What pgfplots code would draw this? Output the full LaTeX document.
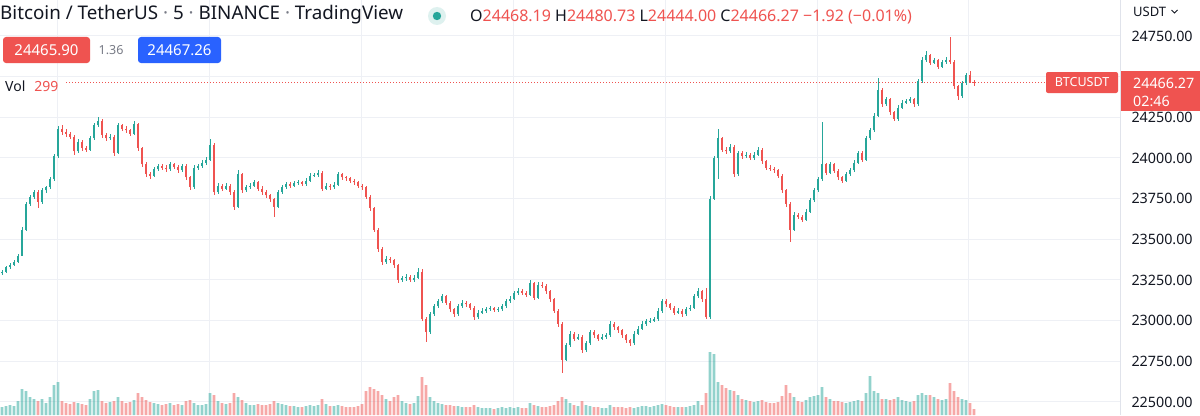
\documentclass[border=0pt]{standalone}
\usepackage{fontspec}
\setmainfont{Noto Sans}
\usepackage{pgfplots}
\usepackage{pgfplotstable}
\pgfplotsset{compat=1.18}
\definecolor{up}{RGB}{38,166,154}
\definecolor{dn}{RGB}{239,83,80}
\definecolor{txt}{RGB}{19,23,34}
\definecolor{gridc}{RGB}{238,240,245}
\definecolor{borderc}{RGB}{224,227,235}
\definecolor{graytxt}{RGB}{120,123,134}
\definecolor{bluebox}{RGB}{41,98,255}

\pgfplotstableread{
x O H L C V
2 23290 23310 23280 23300 400
6 23300 23338 23295 23330 450
10 23330 23352 23318 23345 500
14 23345 23370 23335 23360 450
18 23360 23410 23352 23400 700
22 23400 23575 23395 23560 1300
26 23560 23730 23550 23720 1200
30 23720 23775 23705 23760 900
34 23760 23805 23745 23790 800
38 23790 23800 23690 23730 700
42 23730 23815 23720 23800 800
46 23800 23830 23785 23820 600
50 23820 23880 23810 23870 900
54 23870 24025 23860 24010 1500
58 24010 24195 24000 24180 1650
62 24180 24200 24140 24160 700
66 24160 24175 24130 24150 600
70 24150 24160 24115 24130 550
74 24130 24140 24018 24040 650
78 24040 24115 24030 24100 600
82 24100 24110 24045 24060 550
86 24060 24075 24035 24050 500
90 24050 24135 24045 24120 800
94 24120 24215 24110 24200 1200
98 24200 24250 24190 24230 1250
102 24230 24240 24125 24140 700
106 24140 24155 24105 24120 600
110 24120 24145 24110 24130 650
114 24130 24140 24015 24030 700
118 24030 24215 24025 24200 900
122 24200 24210 24165 24180 700
126 24180 24195 24155 24170 600
130 24170 24180 24135 24150 650
134 24150 24225 24140 24210 750
138 24210 24215 24045 24060 1100
142 24060 24070 23945 23960 900
146 23960 23975 23885 23900 750
150 23900 23915 23870 23890 650
154 23890 23945 23880 23930 600
158 23930 23965 23920 23950 550
162 23950 23960 23925 23940 500
166 23940 23955 23915 23930 550
170 23930 23975 23920 23960 600
174 23960 23970 23930 23945 500
178 23945 23955 23910 23925 550
182 23925 23965 23915 23950 500
186 23950 23960 23865 23880 700
190 23880 23890 23800 23820 750
194 23820 23955 23810 23940 600
198 23940 23965 23925 23950 500
202 23950 23985 23940 23970 500
206 23970 24005 23955 23990 550
210 23990 24115 23980 24080 1100
214 24080 24090 23775 23790 1000
218 23790 23845 23780 23830 700
222 23830 23840 23795 23810 600
226 23810 23845 23800 23830 550
230 23830 23840 23775 23790 600
234 23790 23800 23680 23700 1100
238 23700 23925 23690 23900 900
242 23900 23910 23785 23800 750
246 23800 23835 23790 23820 600
250 23820 23845 23810 23830 500
254 23830 23865 23820 23850 500
258 23850 23860 23795 23810 550
262 23810 23825 23775 23790 500
266 23790 23800 23755 23770 500
270 23770 23780 23730 23745 550
274 23745 23755 23637 23700 700
278 23700 23805 23690 23790 600
282 23790 23835 23780 23820 550
286 23820 23855 23810 23840 500
290 23840 23850 23815 23830 450
294 23830 23860 23820 23845 450
298 23845 23865 23835 23850 400
302 23850 23860 23825 23840 400
306 23840 23875 23830 23860 450
310 23860 23905 23850 23890 500
314 23890 23910 23880 23895 450
318 23895 23925 23885 23910 500
322 23910 23920 23795 23810 800
326 23810 23845 23800 23830 550
330 23830 23840 23805 23820 450
334 23820 23850 23810 23835 450
338 23835 23915 23825 23900 500
342 23900 23910 23865 23880 450
346 23880 23890 23860 23875 400
350 23875 23885 23845 23860 400
354 23860 23870 23835 23850 400
358 23850 23860 23815 23830 450
362 23830 23840 23805 23820 550
366 23820 23830 23745 23760 1200
370 23760 23770 23675 23690 1400
374 23690 23700 23545 23560 1300
378 23560 23570 23425 23440 1200
382 23440 23455 23345 23360 1000
386 23360 23395 23350 23380 800
390 23380 23390 23355 23370 700
394 23370 23380 23325 23340 900
398 23340 23350 23231 23250 1000
402 23250 23275 23240 23260 700
406 23260 23285 23245 23270 600
410 23270 23280 23235 23250 550
414 23250 23280 23240 23265 600
418 23265 23325 23255 23300 950
422 23300 23320 23000 23010 1900
426 23010 23020 22869 22930 1500
430 22930 23055 22920 23040 900
434 23040 23105 23030 23090 700
438 23090 23135 23080 23120 600
442 23120 23165 23110 23150 550
446 23150 23160 23095 23110 500
450 23110 23120 23055 23070 500
454 23070 23080 23022 23040 450
458 23040 23105 23030 23090 450
462 23090 23125 23080 23110 400
466 23110 23120 23085 23100 400
470 23100 23110 23065 23080 400
474 23080 23090 23005 23020 500
478 23020 23065 23010 23050 400
482 23050 23075 23040 23060 350
486 23060 23085 23050 23070 350
490 23070 23090 23060 23075 350
494 23075 23085 23055 23068 300
498 23068 23085 23055 23070 350
502 23070 23105 23060 23090 400
506 23090 23135 23080 23120 350
510 23120 23150 23110 23135 400
514 23135 23185 23125 23170 350
518 23170 23200 23160 23185 400
522 23185 23195 23155 23170 350
526 23170 23180 23145 23160 350
530 23160 23250 23150 23230 600
534 23230 23240 23125 23140 500
538 23140 23235 23130 23220 450
542 23220 23235 23200 23215 400
546 23215 23225 23165 23180 400
550 23180 23190 23115 23130 450
554 23130 23140 23045 23060 500
558 23060 23070 22961 22980 700
562 22980 22990 22678 22760 900
566 22760 22865 22750 22850 800
570 22850 22935 22840 22920 600
574 22920 22930 22875 22890 500
578 22890 22915 22880 22900 450
582 22900 22910 22801 22820 700
586 22820 22875 22810 22860 500
590 22860 22945 22850 22930 450
594 22930 22940 22895 22910 400
598 22910 22920 22875 22890 400
602 22890 22915 22880 22900 350
606 22900 22925 22890 22910 350
610 22910 22995 22900 22980 500
614 22980 22990 22945 22960 400
618 22960 22970 22925 22940 400
622 22940 22950 22895 22910 400
626 22910 22920 22865 22880 350
630 22880 22890 22845 22860 400
634 22860 22935 22850 22920 350
638 22920 22965 22910 22950 400
642 22950 22995 22940 22980 450
646 22980 23010 22970 22995 450
650 22995 23015 22985 23000 400
654 23000 23025 22990 23010 450
658 23010 23075 23000 23060 500
662 23060 23135 23050 23120 550
666 23120 23130 23085 23100 500
670 23100 23110 23065 23080 450
674 23080 23090 23035 23050 400
678 23050 23075 23040 23060 400
682 23060 23070 23025 23040 400
686 23040 23085 23030 23070 400
690 23070 23095 23060 23080 450
694 23080 23165 23070 23150 500
698 23150 23200 23140 23180 700
702 23180 23190 23115 23130 500
706 23130 23200 23010 23020 1100
710 23020 23765 23010 23750 3150
714 23750 24015 23740 24000 3050
718 24000 24175 23870 24120 1650
722 24120 24130 24035 24050 1500
726 24050 24065 24025 24040 1350
730 24040 24085 24030 24070 1250
734 24070 24080 23883 23900 1200
738 23900 24045 23890 24030 1000
742 24030 24040 23995 24010 800
746 24010 24035 24000 24020 750
750 24020 24030 23985 24000 700
754 24000 24035 23990 24020 650
758 24020 24065 24010 24050 700
762 24050 24060 23965 23980 750
766 23980 23990 23925 23940 650
770 23940 23955 23920 23935 600
774 23935 23945 23910 23925 600
778 23925 23935 23875 23890 650
782 23890 23900 23785 23800 950
786 23800 23810 23700 23720 1500
790 23720 23730 23484 23560 1100
794 23560 23665 23550 23650 900
798 23650 23660 23625 23640 700
802 23640 23650 23605 23620 650
806 23620 23685 23610 23670 750
810 23670 23755 23660 23740 900
814 23740 23815 23730 23800 950
818 23800 23885 23790 23870 1000
822 23870 24221 23860 23960 1400
826 23960 23970 23895 23910 900
830 23910 23975 23900 23960 800
834 23960 23970 23905 23920 700
838 23920 23930 23865 23880 700
842 23880 23890 23845 23860 650
846 23860 23915 23850 23900 600
850 23900 23940 23890 23925 650
854 23925 23985 23915 23970 700
858 23970 24045 23960 24030 750
862 24030 24040 23975 23990 700
866 23990 24135 23980 24120 1100
870 24120 24185 24110 24170 1950
874 24170 24275 24160 24260 1200
878 24260 24492 24250 24420 1100
882 24420 24430 24315 24330 800
886 24330 24375 24320 24360 800
890 24360 24370 24265 24280 750
894 24280 24290 24225 24240 800
898 24240 24325 24230 24310 900
902 24310 24355 24300 24340 750
906 24340 24365 24330 24350 700
910 24350 24375 24340 24360 650
914 24360 24370 24315 24330 700
918 24330 24485 24320 24470 1000
922 24470 24621 24460 24600 1100
926 24600 24660 24590 24630 1000
930 24630 24640 24570 24585 1000
934 24585 24615 24575 24600 900
938 24600 24610 24545 24560 800
942 24560 24605 24550 24590 750
946 24590 24620 24580 24600 800
950 24600 24744 24580 24590 1600
954 24590 24600 24425 24440 1200
958 24440 24450 24356 24380 900
962 24380 24475 24370 24460 800
966 24460 24525 24450 24510 750
970 24510 24535 24460 24468.19 600
974 24468.19 24480.73 24444.00 24466.27 299
}\candles

\begin{document}
\begin{tikzpicture}[x=1bp,y=1bp]
\useasboundingbox (0,0) rectangle (1200,415);
\fill[white] (0,0) rectangle (1200,415);
\pgfplotsset{base/.style={at={(0,0)}, anchor=south west, scale only axis,
  width=1120bp, height=415bp, xmin=0, xmax=1120, scaled ticks=false}}
% grid and price scale
\begin{axis}[base, ymin=22420, ymax=24971,
  xtick={57.5,209.5,361,513,665,817,968}, xticklabels={},
  ytick={22500,22750,23000,23250,23500,23750,24000,24250,24500,24750},
  yticklabels={22500.00,22750.00,23000.00,23250.00,23500.00,23750.00,24000.00,24250.00,{},24750.00},
  yticklabel pos=right, grid=major, major grid style={draw=gridc, line width=1bp},
  axis line style={draw=none}, major tick length=0pt,
  yticklabel style={anchor=west, xshift=8bp, font=\fontsize{14.3bp}{16bp}\selectfont, text=txt}]
\addplot[draw=none, forget plot] coordinates {(0,23000)};
\end{axis}
% volume
\begin{axis}[base, hide axis, ymin=0, ymax=20750]
\addplot[ybar, bar width=2.8bp, bar shift=0pt, fill=up, fill opacity=0.5, draw=none,
  restrict expr to domain={\thisrow{C}-\thisrow{O}}{0:100000}] table[x=x,y=V]{\candles};
\addplot[ybar, bar width=2.8bp, bar shift=0pt, fill=dn, fill opacity=0.5, draw=none,
  restrict expr to domain={\thisrow{C}-\thisrow{O}}{-100000:-0.001}] table[x=x,y=V]{\candles};
\end{axis}
% candles
\begin{axis}[base, hide axis, ymin=22420, ymax=24971]
\draw[dn, line width=0.8bp, dash pattern=on 1bp off 2bp] (axis cs:66,24466.27) -- (axis cs:1045,24466.27);
\addplot[draw=none, no markers, restrict expr to domain={\thisrow{C}-\thisrow{O}}{0:100000},
  error bars/.cd, y dir=both, y explicit, error mark=none, error bar style={line width=1bp, draw=up}]
  table[x=x, y=C, y error plus expr={\thisrow{H}-\thisrow{C}}, y error minus expr={\thisrow{C}-\thisrow{L}}]{\candles};
\addplot[draw=none, no markers, restrict expr to domain={\thisrow{C}-\thisrow{O}}{-100000:-0.001},
  error bars/.cd, y dir=both, y explicit, error mark=none, error bar style={line width=1bp, draw=dn}]
  table[x=x, y=C, y error plus expr={\thisrow{H}-\thisrow{C}}, y error minus expr={\thisrow{C}-\thisrow{L}}]{\candles};
\addplot[draw=none, no markers, restrict expr to domain={\thisrow{C}-\thisrow{O}}{0:100000},
  error bars/.cd, y dir=plus, y explicit, error mark=none, error bar style={line width=2.8bp, draw=up}]
  table[x=x, y=O, y error plus expr={\thisrow{C}-\thisrow{O}}, y error minus expr={0}]{\candles};
\addplot[draw=none, no markers, restrict expr to domain={\thisrow{C}-\thisrow{O}}{-100000:-0.001},
  error bars/.cd, y dir=plus, y explicit, error mark=none, error bar style={line width=2.8bp, draw=dn}]
  table[x=x, y=C, y error plus expr={\thisrow{O}-\thisrow{C}}, y error minus expr={0}]{\candles};
\end{axis}
% overlays
\draw[borderc, line width=1bp] (1120.5,0) -- (1120.5,415);
\node[anchor=west, inner sep=0, font=\fontsize{18.8bp}{22bp}\selectfont, text=txt] at (0,400)
  {Bitcoin / TetherUS \textcolor{graytxt}{·} 5 \textcolor{graytxt}{·} BINANCE \textcolor{graytxt}{·} TradingView};
\fill[up, opacity=0.15] (437,399) circle (9);
\fill[up] (437,399) circle (4.2);
\node[anchor=west, inner sep=0, font=\fontsize{16bp}{18bp}\selectfont] at (470,398)
  {\textcolor{txt}{O}\textcolor{dn}{24468.19} \textcolor{txt}{H}\textcolor{dn}{24480.73} \textcolor{txt}{L}\textcolor{dn}{24444.00} \textcolor{txt}{C}\textcolor{dn}{24466.27} \textcolor{dn}{−1.92 (−0.01\%)}};
\fill[dn, rounded corners=3bp] (3,352) rectangle (90,378);
\node[text=white, font=\fontsize{15bp}{17bp}\selectfont] at (46.5,365) {24465.90};
\node[text=graytxt, font=\fontsize{12.5bp}{15bp}\selectfont] at (111,365) {1.36};
\fill[bluebox, rounded corners=3bp] (138,352) rectangle (221,378);
\node[text=white, font=\fontsize{15bp}{17bp}\selectfont] at (179.5,365) {24467.26};
\node[anchor=west, inner sep=0, font=\fontsize{14bp}{16bp}\selectfont] at (5,329)
  {\textcolor{txt}{Vol}\hspace{9bp}\textcolor{dn}{299}};
\fill[dn, rounded corners=2bp] (1046,322) rectangle (1118,343);
\node[text=white, font=\bfseries\fontsize{12.5bp}{15bp}\selectfont] at (1082,332.5) {BTCUSDT};
\fill[dn] (1121,304) rectangle (1200,344);
\node[anchor=west, inner sep=0, text=white, font=\fontsize{14.3bp}{16bp}\selectfont] at (1133,332) {24466.27};
\node[anchor=west, inner sep=0, text=white, font=\fontsize{14.3bp}{16bp}\selectfont] at (1133,314) {02:46};
\node[anchor=west, inner sep=0, text=txt, font=\fontsize{13bp}{15bp}\selectfont] at (1133,403) {USDT};
\draw[txt, line width=0.9bp] (1171.5,405) -- (1174.5,402) -- (1177.5,405);
\end{tikzpicture}
\end{document}
